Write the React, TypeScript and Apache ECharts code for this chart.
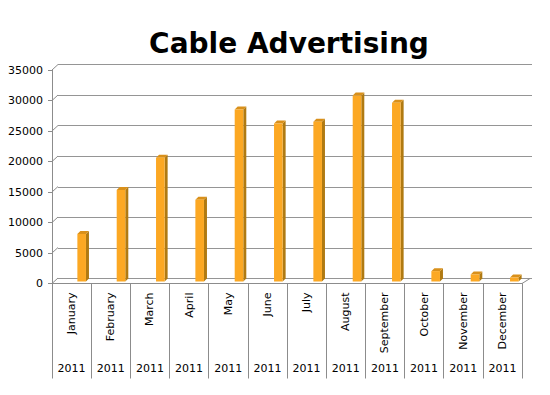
import React, { useEffect, useRef } from "react";
import * as echarts from "echarts";

const months = ["January", "February", "March", "April", "May", "June", "July", "August", "September", "October", "November", "December"];
const years = ["2011", "2011", "2011", "2011", "2011", "2011", "2011", "2011", "2011", "2011", "2011", "2011"];
const values = [7800, 15000, 20300, 13400, 28200, 25900, 26200, 30500, 29300, 1700, 1150, 650];
const yTicks = [0, 5000, 10000, 15000, 20000, 25000, 30000, 35000];

const FONT = "DejaVu Sans";
const AXIS_GRAY = "#8c8c8c";

export default function App() {
  const ref = useRef<HTMLDivElement>(null);
  useEffect(() => {
    if (!ref.current) return;
    const chart = echarts.init(ref.current, null, { renderer: "svg" });
    const option: any = {
      animation: false,
      backgroundColor: "#ffffff",
      title: {
        text: "Cable Advertising",
        left: 284,
        top: 24,
        textAlign: "center",
        textStyle: { fontFamily: FONT, fontSize: 28, fontWeight: "bold", color: "#000" },
      },
      grid: [
        { left: 52, right: 28, top: 70, bottom: 111.5 },
        { left: 58, right: 18, top: 64.5, bottom: 116.5 },
        { left: 62, width: 472, top: 68, bottom: 113.5 },
      ],
      xAxis: [
        {
          type: "category",
          gridIndex: 0,
          data: months,
          axisLine: { show: true, lineStyle: { color: AXIS_GRAY, width: 1 } },
          axisTick: { show: true, interval: 0, length: 95, alignWithLabel: false, lineStyle: { color: AXIS_GRAY } },
          axisLabel: { interval: 0, rotate: 90, margin: 9, fontFamily: FONT, fontSize: 11, color: "#000" },
          splitLine: { show: false },
        },
        {
          type: "category",
          gridIndex: 0,
          data: years,
          position: "bottom",
          offset: 77,
          axisLine: { show: false },
          axisTick: { show: false },
          axisLabel: { interval: 0, margin: 2, fontFamily: FONT, fontSize: 11, color: "#000" },
        },
        { type: "category", gridIndex: 1, data: months, show: false },
        { type: "category", gridIndex: 2, data: months, show: false },
      ],
      yAxis: [
        {
          type: "value",
          gridIndex: 0,
          min: 0,
          max: 35000,
          interval: 5000,
          axisLine: { show: true, lineStyle: { color: AXIS_GRAY } },
          axisTick: { show: true, length: 4, lineStyle: { color: AXIS_GRAY } },
          axisLabel: { margin: 9, fontFamily: FONT, fontSize: 11, color: "#000", formatter: (v: number) => String(v) },
          splitLine: { show: false },
        },
        {
          type: "value",
          gridIndex: 1,
          min: 0,
          max: 35000,
          interval: 5000,
          axisLine: { show: false },
          axisTick: { show: false },
          axisLabel: { show: false },
          splitLine: { show: true, lineStyle: { color: "#959595", width: 1.2 } },
        },
        { type: "value", gridIndex: 2, min: 0, max: 35000, interval: 5000, show: false, splitLine: { show: false } },
      ],
      series: [
        {
          type: "custom",
          xAxisIndex: 0,
          yAxisIndex: 0,
          data: yTicks.map((v) => [0, v]),
          renderItem: (params: any, api: any) => {
            const v = api.value(1);
            const p = api.coord([0, v]);
            const cs = params.coordSys;
            const children: any[] = [
              {
                type: "line",
                shape: { x1: cs.x, y1: p[1], x2: cs.x + 6, y2: p[1] - 5.5 },
                style: { stroke: AXIS_GRAY, lineWidth: 1 },
              },
            ];
            if (v === 0) {
              children.push({
                type: "line",
                shape: { x1: cs.x + cs.width, y1: p[1], x2: cs.x + cs.width + 8, y2: p[1] - 5 },
                style: { stroke: AXIS_GRAY, lineWidth: 1 },
              });
            }
            return { type: "group", children };
          },
          silent: true,
          z: 3,
        },
        {
          type: "custom",
          xAxisIndex: 3,
          yAxisIndex: 2,
          data: values.map((v, i) => [i, v]),
          renderItem: (params: any, api: any) => {
            const top = api.coord([api.value(0), api.value(1)]);
            const base = api.coord([api.value(0), 0]);
            const x = top[0];
            const hw = 4.3;
            const d = 3;
            const yt = top[1];
            const yb = base[1];
            return {
              type: "group",
              children: [
                {
                  type: "polygon",
                  shape: { points: [[x + hw, yt], [x + hw + d, yt - d], [x + hw + d, yb - d], [x + hw, yb]] },
                  style: { fill: "#B07A12" },
                },
                {
                  type: "polygon",
                  shape: { points: [[x - hw, yt], [x - hw + d, yt - d], [x + hw + d, yt - d], [x + hw, yt]] },
                  style: { fill: "#D9901A" },
                },
                {
                  type: "rect",
                  shape: { x: x - hw, y: yt, width: hw * 2, height: yb - yt },
                  style: { fill: "#FCA823" },
                },
              ],
            };
          },
          z: 5,
        },
      ],
    };
    chart.setOption(option);
    return () => chart.dispose();
  }, []);
  return <div ref={ref} style={{ position: "fixed", left: 0, top: 0, width: 550, height: 395 }} />;
}
